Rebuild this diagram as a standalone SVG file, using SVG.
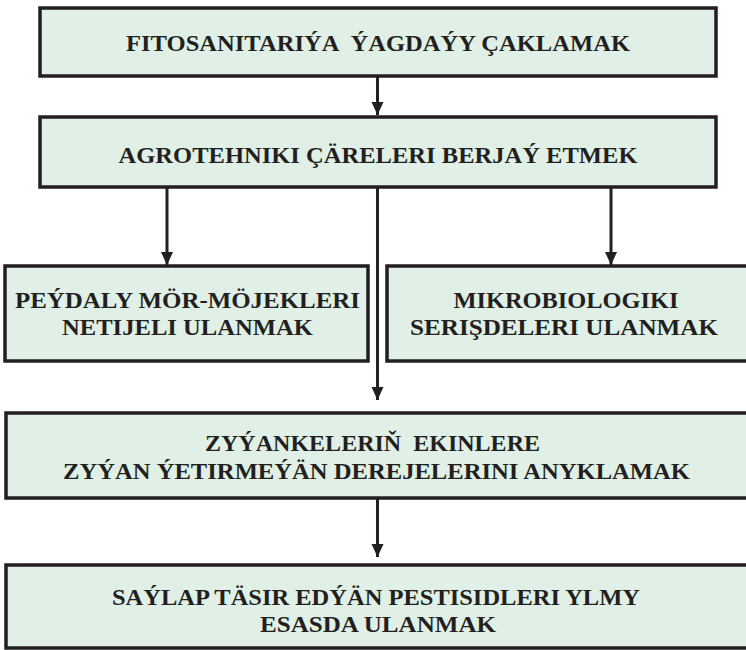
<svg xmlns="http://www.w3.org/2000/svg" width="746" height="650" viewBox="0 0 746 650">
<defs>
<style>
.box{fill:#e0f0e6;stroke:#231f20;stroke-width:3.5}
.t{font-family:"Liberation Serif","Times New Roman",serif;font-weight:bold;font-size:24px;fill:#231f20;text-anchor:middle}
.c{stroke:#231f20;stroke-width:3;fill:none}
</style>
<marker id="arr" markerUnits="userSpaceOnUse" markerWidth="14" markerHeight="14" viewBox="0 0 14 14" refX="13" refY="7" orient="auto">
<path d="M0,1 L13,7 L0,13 Z" fill="#231f20"/>
</marker>
</defs>
<rect width="746" height="650" fill="#ffffff"/>
<g id="connectors">
<line class="c" x1="377.5" y1="77" x2="377.5" y2="115" marker-end="url(#arr)"/>
<line class="c" x1="167" y1="188" x2="167" y2="265" marker-end="url(#arr)"/>
<line class="c" x1="611" y1="188" x2="611" y2="265" marker-end="url(#arr)"/>
<line class="c" x1="377.5" y1="188" x2="377.5" y2="400" marker-end="url(#arr)"/>
<line class="c" x1="377.5" y1="498" x2="377.5" y2="557" marker-end="url(#arr)"/>
</g>
<g id="n1">
<rect class="box" x="40" y="8" width="676" height="68"/>
<text class="t" x="378" y="51" textLength="504" lengthAdjust="spacingAndGlyphs" xml:space="preserve">FITOSANITARIÝA  ÝAGDAÝY ÇAKLAMAK</text>
</g>
<g id="n2">
<rect class="box" x="40" y="117" width="676" height="70"/>
<text class="t" x="378" y="163" textLength="519" lengthAdjust="spacingAndGlyphs">AGROTEHNIKI ÇÄRELERI BERJAÝ ETMEK</text>
</g>
<g id="n3">
<rect class="box" x="5" y="266" width="363" height="95"/>
<text class="t" x="187.5" y="308" textLength="345" lengthAdjust="spacingAndGlyphs">PEÝDALY MÖR-MÖJEKLERI</text>
<text class="t" x="187.5" y="335" textLength="251" lengthAdjust="spacingAndGlyphs">NETIJELI ULANMAK</text>
</g>
<g id="n4">
<rect class="box" x="387" y="266" width="365" height="95"/>
<text class="t" x="566" y="308" textLength="225" lengthAdjust="spacingAndGlyphs">MIKROBIOLOGIKI</text>
<text class="t" x="564" y="335" textLength="308" lengthAdjust="spacingAndGlyphs">SERIŞDELERI ULANMAK</text>
</g>
<g id="n5">
<rect class="box" x="6" y="413" width="746" height="85"/>
<text class="t" x="372.5" y="451" textLength="335" lengthAdjust="spacingAndGlyphs" xml:space="preserve">ZYÝANKELERIŇ  EKINLERE</text>
<text class="t" x="376.5" y="479" textLength="627" lengthAdjust="spacingAndGlyphs">ZYÝAN ÝETIRMEÝÄN DEREJELERINI ANYKLAMAK</text>
</g>
<g id="n6">
<rect class="box" x="6" y="565" width="746" height="83"/>
<text class="t" x="376" y="605" textLength="528" lengthAdjust="spacingAndGlyphs">SAÝLAP TÄSIR EDÝÄN PESTISIDLERI YLMY</text>
<text class="t" x="378" y="632" textLength="236" lengthAdjust="spacingAndGlyphs">ESASDA ULANMAK</text>
</g>
</svg>
